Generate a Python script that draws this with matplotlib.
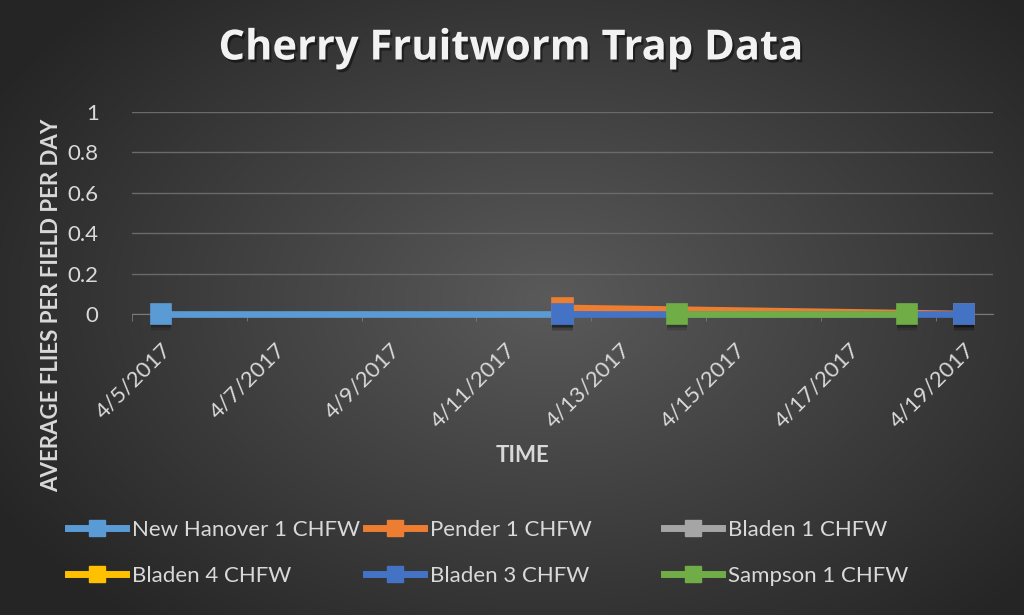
import matplotlib
matplotlib.use("Agg")
from matplotlib import pyplot as plt
from matplotlib import patheffects as pe
from matplotlib.lines import Line2D
import numpy as np
from datetime import datetime, timedelta

plt.rcParams['font.family'] = ['Lato', 'DejaVu Sans']

# series data (dates as M/D of 2017, average flies per field per day)
series_names = ["New Hanover 1 CHFW", "Pender 1 CHFW", "Bladen 1 CHFW",
                "Bladen 4 CHFW", "Bladen 3 CHFW", "Sampson 1 CHFW"]
series_colors = ["#5B9BD5", "#ED7D31", "#A5A5A5", "#FFC000", "#4472C4", "#70AD47"]

new_hanover_dates = ["4/5/2017", "4/12/2017"]
new_hanover_values = [0.0, 0.0]
pender_dates = ["4/12/2017", "4/19/2017"]
pender_values = [0.03, 0.0]
bladen1_dates = []
bladen1_values = []
bladen4_dates = []
bladen4_values = []
bladen3_dates = ["4/12/2017", "4/19/2017"]
bladen3_values = [0.0, 0.0]
sampson_dates = ["4/14/2017", "4/18/2017"]
sampson_values = [0.0, 0.0]

tick_dates = ["4/5/2017", "4/7/2017", "4/9/2017", "4/11/2017",
              "4/13/2017", "4/15/2017", "4/17/2017", "4/19/2017"]
y_ticks = [0, 0.2, 0.4, 0.6, 0.8, 1]
y_tick_labels = ["0", "0.2", "0.4", "0.6", "0.8", "1"]


def to_dates(strs):
    return [datetime.strptime(s, "%m/%d/%Y") for s in strs]


all_series = [
    (new_hanover_dates, new_hanover_values),
    (pender_dates, pender_values),
    (bladen1_dates, bladen1_values),
    (bladen4_dates, bladen4_values),
    (bladen3_dates, bladen3_values),
    (sampson_dates, sampson_values),
]

W, H = 1024, 615
fig = plt.figure(figsize=(W / 100, H / 100), dpi=100)

# radial gradient background
bg = fig.add_axes([0, 0, 1, 1])
yy, xx = np.mgrid[0:H, 0:W]
r = np.sqrt(((xx - 550) / 640.0) ** 2 + ((yy - 300) / 430.0) ** 2)
r = np.clip(r, 0, 1)
shade = 0x5a / 255 * (1 - r) + 0x25 / 255 * r
bg.imshow(np.dstack([shade, shade, shade]), aspect='auto', extent=[0, 1, 0, 1])
bg.set_axis_off()

ax = fig.add_axes([132 / W, 1 - 314 / H, (993 - 132) / W, (314 - 112) / H])
ax.set_facecolor('none')

# soft shadow for the markers (a few faint offset copies)
soft = [pe.SimplePatchShadow(offset=(0, -o), shadow_rgbFace='black', alpha=a)
        for o, a in [(1, 0.14), (2, 0.12), (3, 0.1), (4, 0.08), (5, 0.06)]] + [pe.Normal()]

for (d, v), name, col in zip(all_series, series_names, series_colors):
    x = to_dates(d)
    ax.plot(x, v, color=col, lw=4.8, solid_capstyle='butt', clip_on=False, zorder=3)
    mk, = ax.plot(x, v, ls='none', marker='s', markersize=14.5,
                  markerfacecolor=col, markeredgecolor=col, markeredgewidth=1.2,
                  clip_on=False, zorder=3)
    mk.set_path_effects(soft)

start = datetime(2017, 4, 5) - timedelta(hours=12)
end = datetime(2017, 4, 19) + timedelta(hours=12)
ax.set_xlim(start, end)
ax.set_ylim(0, 1)

ax.set_yticks(y_ticks)
ax.set_yticklabels(y_tick_labels)
ax.grid(axis='y', color='#6a6a6a', lw=1)
ax.set_axisbelow(True)

td = to_dates(tick_dates)
ax.set_xticks(td)
ax.set_xticklabels(tick_dates, rotation=45, ha='right', va='top', rotation_mode='anchor')
ax.set_xticks([t - timedelta(hours=12) for t in td], minor=True)
ax.tick_params(axis='x', which='major', length=0, pad=18, labelsize=16, labelcolor='#d9d9d9')
ax.tick_params(axis='x', which='minor', length=5, color='#7a7a7a', direction='out')
ax.tick_params(axis='y', length=0, pad=24, labelsize=16, labelcolor='#d9d9d9')

for s in ['top', 'right', 'left']:
    ax.spines[s].set_visible(False)
ax.spines['bottom'].set_color('#7a7a7a')

fig.text(511 / W, 1 - 49 / H, "Cherry Fruitworm Trap Data", ha='center', va='center',
         fontsize=30, fontweight='bold', color='#f2f2f2', family=['Open Sans', 'DejaVu Sans'],
         path_effects=[pe.withSimplePatchShadow(offset=(1.5, -2), shadow_rgbFace='black', alpha=0.45)])
fig.text(522 / W, 1 - 456 / H, "TIME", ha='center', va='center', fontsize=16,
         fontweight='bold', color='#d9d9d9')
fig.text(52 / W, 1 - 305 / H, "AVERAGE FLIES PER FIELD PER DAY", ha='center', va='center',
         rotation=90, fontsize=16, fontweight='bold', color='#d9d9d9')

# legend: three fixed-width columns of two rows
handles = [Line2D([], [], color=c, lw=5, marker='s', markersize=11,
                  markerfacecolor=c, markeredgecolor=c) for c in series_colors]
col_x = [68, 366, 664]
for i, x0 in enumerate(col_x):
    hs = [handles[i], handles[i + 3]]
    labs = [series_names[i], series_names[i + 3]]
    leg = fig.legend(hs, labs, loc='center left',
                     bbox_to_anchor=(x0 / W, 1 - 553 / H), frameon=False,
                     fontsize=16, handlelength=2.6, handletextpad=0.27,
                     labelspacing=1.16, borderaxespad=0, borderpad=0)
    for t in leg.get_texts():
        t.set_color('#d9d9d9')

fig.savefig("out.png", dpi=100)
